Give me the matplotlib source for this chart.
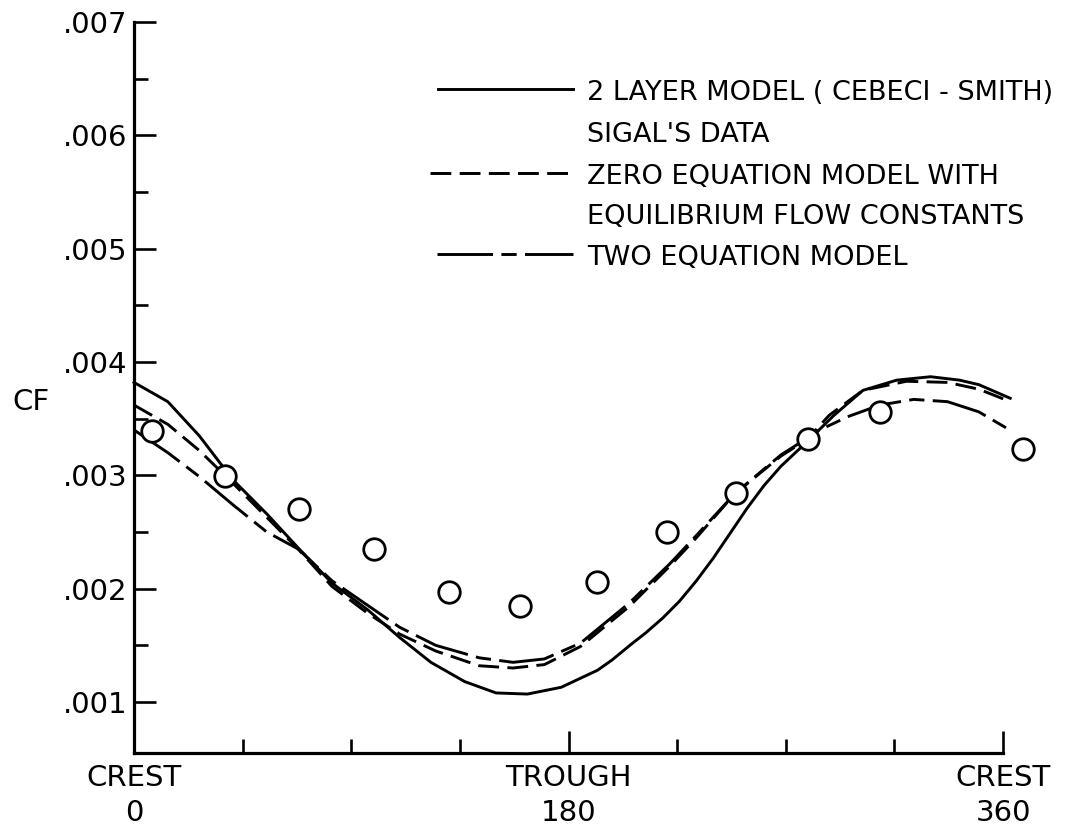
import matplotlib
matplotlib.use("Agg")
import matplotlib.pyplot as plt
from matplotlib.lines import Line2D

plt.rcParams.update({"font.family": "DejaVu Sans", "lines.scale_dashes": False})

# phase angle (deg) and skin friction CF
two_layer_x = [0, 14, 27, 41, 55, 68, 82, 97, 110, 123, 137, 150, 163, 177, 185, 192, 198, 206, 212, 219, 226,
               233, 240, 247, 254, 261, 268, 279, 290, 302, 316, 330, 342, 350, 363]
two_layer_y = [.00382, .00365, .00335, .00296, .00266, .00236, .00205, .00181, .00157, .00135, .00118, .00108,
               .00107, .00113, .00121, .00128, .00137, .00151, .00161, .00174, .00189, .00207, .00227, .00249,
               .00271, .00291, .00308, .0033, .00353, .00375, .00384, .00387, .00384, .0038, .00368]

zero_eq_x = [0, 14, 27, 41, 55, 68, 82, 97, 110, 125, 143, 157, 170, 185, 205, 222, 233, 249, 268, 279, 288,
             302, 320, 337, 350, 363]
zero_eq_y = [.00362, .00345, .00322, .00293, .00263, .00235, .00202, .00178, .0016, .00145, .00132, .0013,
             .00133, .00149, .00184, .0022, .00245, .00284, .00317, .00332, .00353, .00375, .00383, .00382,
             .00376, .00365]

two_eq_x = [0, 14, 27, 41, 55, 68, 82, 97, 110, 125, 143, 157, 170, 185, 205, 222, 233, 249, 268, 279, 284,
            296, 309, 323, 337, 350, 362]
two_eq_y = [.0034, .0032, .00299, .00274, .0025, .00235, .00207, .00185, .00166, .0015, .00139, .00135,
            .00138, .00152, .00187, .00222, .00247, .00284, .00318, .00333, .0034, .00352, .00362, .00367,
            .00365, .00356, .00341]

sigal_x = [7.5, 37.7, 68.4, 99.4, 130.5, 160, 191.8, 220.8, 249.4, 279.2, 309, 368.3]
sigal_y = [.00339, .00299, .0027, .00235, .00197, .00185, .00206, .0025, .00284, .00332, .00356, .00323]

ytick_vals = [.001, .002, .003, .004, .005, .006, .007]
ytick_labels = [".001", ".002", ".003", ".004", ".005", ".006", ".007"]
xtick_vals = [0, 180, 360]
xtick_labels = ["CREST\n0", "TROUGH\n180", "CREST\n360"]

legend_labels = ["2 LAYER MODEL ( CEBECI - SMITH)", "SIGAL'S DATA",
                 "ZERO EQUATION MODEL WITH", "EQUILIBRIUM FLOW CONSTANTS", "TWO EQUATION MODEL"]

W, H = 1078, 835
fig = plt.figure(figsize=(W / 100, H / 100), dpi=100)
ax = fig.add_axes([134 / W, 1 - 753 / H, (1003 - 134) / W, (753 - 22) / H])

lw = 2.1
dash_zero = (0, (15, 6))
dash_two = (0, (40, 6, 11, 6))
ax.plot(two_layer_x, two_layer_y, color="black", lw=lw, clip_on=False)
ax.plot(zero_eq_x, zero_eq_y, color="black", lw=lw, ls=dash_zero, clip_on=False)
ax.plot(two_eq_x, two_eq_y, color="black", lw=lw, ls=dash_two, clip_on=False)
ax.plot(sigal_x, sigal_y, "o", ms=15.5, mfc="white", mec="black", mew=2.0, clip_on=False, zorder=5)

ax.set_xlim(0, 360)
ax.set_ylim(0.00055, 0.007)
for s in ["top", "right"]:
    ax.spines[s].set_visible(False)
for s in ["left", "bottom"]:
    ax.spines[s].set_linewidth(2.3)

ax.set_xticks(xtick_vals)
ax.set_xticklabels(xtick_labels, fontsize=21, linespacing=1.3)
ax.set_xticks([45, 90, 135, 225, 270, 315], minor=True)
ax.set_yticks(ytick_vals)
ax.set_yticklabels(ytick_labels, fontsize=21)
ax.set_yticks([.0015, .0025, .0035, .0045, .0055, .0065], minor=True)
ax.tick_params(axis="both", which="major", direction="in", length=16, width=1.9, pad=5)
ax.tick_params(axis="both", which="minor", direction="in", length=10, width=1.9)
ax.tick_params(axis="x", which="major", pad=8)

fig.text(31 / W, 1 - 402 / H, "CF", fontsize=21, ha="center", va="center")

# hand-drawn style legend
rows_y = [93, 135, 177, 217, 258]
line_rows = [(0, None), (2, dash_zero), (4, dash_two)]
line_x = {0: (438, 573), 2: (430, 573), 4: (437, 573)}
for i, ls in line_rows:
    x0, x1 = line_x[i]
    yy = 1 - (rows_y[i] - 4) / H
    fig.add_artist(Line2D([x0 / W, x1 / W], [yy, yy], color="black", lw=lw,
                          ls=ls if ls else "-", transform=fig.transFigure))
for i, lab in enumerate(legend_labels):
    fig.text(587 / W, 1 - rows_y[i] / H, lab, fontsize=19.5, ha="left", va="center")

fig.savefig("out.png", dpi=100)
